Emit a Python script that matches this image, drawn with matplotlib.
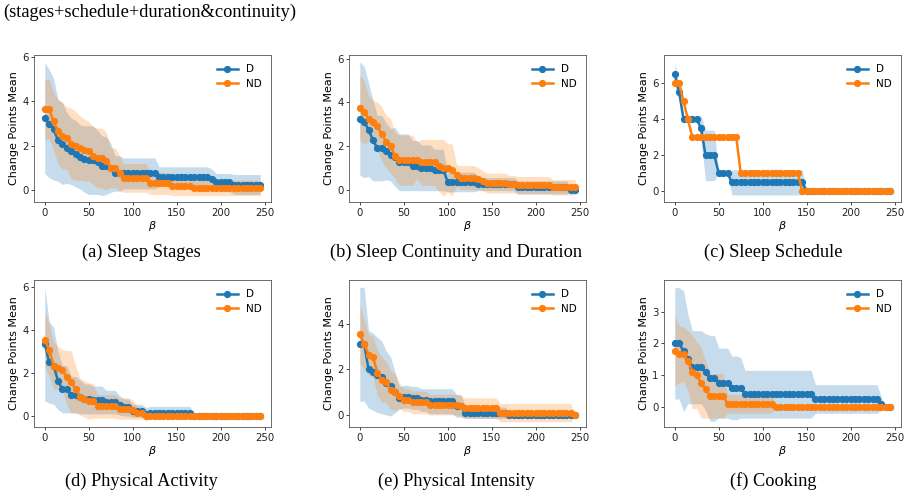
import matplotlib
matplotlib.use('Agg')
import matplotlib.pyplot as plt

# beta grid shared by every panel
beta = list(range(0, 250, 5))

# (a) Sleep Stages
a_d_mean = [3.25, 3.0, 2.75, 2.25, 2.1, 1.9, 1.75, 1.65, 1.5, 1.4, 1.35, 1.35, 1.25, 1.1, 1.1, 1.0, 0.75, 0.75,
            0.75, 0.75, 0.75, 0.75, 0.75, 0.75, 0.75, 0.75,
            0.6, 0.6, 0.6, 0.6, 0.6, 0.6, 0.6, 0.6, 0.6, 0.6, 0.6, 0.6,
            0.5, 0.35, 0.35, 0.35, 0.35, 0.25, 0.25, 0.25, 0.25, 0.25, 0.25, 0.25]
a_d_std = [2.5, 2.45, 2.3, 1.85, 1.85, 1.6, 1.5, 1.5, 1.45, 1.5, 1.55, 1.55, 1.45, 1.35, 1.3, 1.1, 0.8, 0.8,
           0.7, 0.7, 0.7, 0.7, 0.7, 0.7, 0.7, 0.7,
           0.45, 0.45, 0.45, 0.45, 0.45, 0.45, 0.45, 0.45, 0.45, 0.45, 0.45, 0.45,
           0.45, 0.4, 0.4, 0.4, 0.4, 0.45, 0.45, 0.45, 0.45, 0.45, 0.45, 0.45]
a_nd_mean = [3.65, 3.65, 3.1, 2.65, 2.45, 2.35, 2.1, 2.0, 1.9, 1.8, 1.75, 1.55, 1.45, 1.45, 1.3, 1.0, 1.0, 0.75,
             0.55, 0.55, 0.55, 0.55, 0.55, 0.55, 0.3, 0.3, 0.3, 0.3, 0.3, 0.2, 0.2, 0.2, 0.2, 0.2,
             0.1, 0.1, 0.1, 0.1, 0.1, 0.1, 0.1, 0.1, 0.1, 0.1, 0.1, 0.1, 0.1, 0.1, 0.1, 0.1]
a_nd_std = [1.35, 1.35, 1.3, 1.45, 1.5, 1.4, 1.6, 1.55, 1.45, 1.4, 1.35, 1.3, 1.35, 1.35, 1.3, 0.9, 0.9, 0.8,
            0.65, 0.65, 0.65, 0.65, 0.65, 0.65, 0.5, 0.5, 0.5, 0.5, 0.5, 0.45, 0.45, 0.45, 0.45, 0.45,
            0.35, 0.35, 0.35, 0.35, 0.35, 0.35, 0.35, 0.35, 0.35, 0.35, 0.35, 0.35, 0.35, 0.35, 0.35, 0.35]

# (b) Sleep Continuity and Duration
b_d_mean = [3.25, 3.1, 2.75, 2.25, 1.9, 1.9, 1.75, 1.6, 1.5, 1.25, 1.25, 1.25, 1.1, 1.1, 1.0, 1.0, 1.0, 0.9, 0.9, 0.9,
            0.35, 0.35, 0.35, 0.35, 0.35, 0.35, 0.35,
            0.25, 0.25, 0.25, 0.25, 0.25, 0.25, 0.25, 0.25, 0.25,
            0.1, 0.1, 0.1, 0.1, 0.1, 0.1, 0.1, 0.1, 0.1, 0.1, 0.1, 0.1, 0.0, 0.0]
b_d_std = [2.6, 2.55, 2.15, 1.85, 1.5, 1.5, 1.3, 1.2, 1.35, 1.3, 1.3, 1.3, 1.15, 1.15, 1.05, 1.05, 1.05, 0.95, 0.95, 0.95,
           0.45, 0.45, 0.45, 0.45, 0.45, 0.45, 0.45,
           0.3, 0.3, 0.3, 0.3, 0.3, 0.3, 0.3, 0.3, 0.3,
           0.3, 0.3, 0.3, 0.3, 0.3, 0.3, 0.3, 0.3, 0.3, 0.3, 0.3, 0.3, 0.1, 0.1]
b_nd_mean = [3.75, 3.55, 3.25, 3.1, 2.9, 2.55, 2.2, 2.0, 1.55, 1.35, 1.35, 1.35, 1.35, 1.35, 1.25, 1.25, 1.25, 1.25,
             1.1, 1.0, 1.0, 0.9, 0.65, 0.55, 0.55, 0.55, 0.55, 0.5, 0.4, 0.3, 0.3, 0.3, 0.3, 0.3, 0.25, 0.25,
             0.2, 0.2, 0.2, 0.2, 0.2, 0.2, 0.2, 0.2, 0.1, 0.1, 0.1, 0.1, 0.1, 0.1]
b_nd_std = [1.5, 1.45, 1.05, 1.0, 1.1, 1.25, 1.2, 1.25, 1.05, 1.15, 1.15, 1.15, 1.15, 0.85, 1.05, 1.05, 1.05, 1.05,
            1.2, 1.3, 1.1, 1.2, 0.5, 0.55, 0.55, 0.55, 0.55, 0.5, 0.45, 0.45, 0.45, 0.45, 0.45, 0.45, 0.4, 0.4,
            0.4, 0.4, 0.4, 0.4, 0.4, 0.4, 0.4, 0.4, 0.35, 0.35, 0.35, 0.35, 0.35, 0.35]

# (c) Sleep Schedule
c_d_mean = [6.5, 5.5, 4.0, 4.0, 4.0, 4.0, 3.5, 2.0, 2.0, 2.0, 1.0, 1.0, 1.0,
            0.5, 0.5, 0.5, 0.5, 0.5, 0.5, 0.5, 0.5, 0.5, 0.5, 0.5, 0.5, 0.5, 0.5, 0.5, 0.5, 0.5,
            0, 0, 0, 0, 0, 0, 0, 0, 0, 0, 0, 0, 0, 0, 0, 0, 0, 0, 0, 0]
c_d_std = [0.65, 0.3, 0, 0, 0, 0, 0.7, 1.4, 1.4, 1.4, 0, 0, 0,
           0.7, 0.7, 0.7, 0.7, 0.7, 0.7, 0.7, 0.7, 0.7, 0.7, 0.7, 0.7, 0.7, 0.7, 0.7, 0.7, 0.7,
           0, 0, 0, 0, 0, 0, 0, 0, 0, 0, 0, 0, 0, 0, 0, 0, 0, 0, 0, 0]
c_nd_mean = [6.0, 6.0, 5.0, 4.0, 3.0, 3.0, 3.0, 3.0, 3.0, 3.0, 3.0, 3.0, 3.0, 3.0, 3.0,
             1.0, 1.0, 1.0, 1.0, 1.0, 1.0, 1.0, 1.0, 1.0, 1.0, 1.0, 1.0, 1.0, 1.0,
             0, 0, 0, 0, 0, 0, 0, 0, 0, 0, 0, 0, 0, 0, 0, 0, 0, 0, 0, 0, 0]
c_nd_std = [0] * 50

# (d) Physical Activity
d_d_mean = [3.35, 2.5, 2.35, 1.65, 1.25, 1.25, 1.0, 1.0, 0.9, 0.8, 0.8, 0.75, 0.75, 0.75, 0.65, 0.65, 0.65, 0.5,
            0.4, 0.4, 0.25, 0.25, 0.25, 0.1, 0.15, 0.15, 0.15, 0.15, 0.15, 0.15, 0.15, 0.15, 0.15, 0.15,
            0, 0, 0, 0, 0, 0, 0, 0, 0, 0, 0, 0, 0, 0, 0, 0]
d_d_std = [2.65, 1.9, 1.8, 1.35, 1.1, 1.1, 0.85, 0.85, 0.8, 0.7, 0.7, 0.65, 0.65, 0.65, 0.55, 0.55, 0.55, 0.45,
           0.4, 0.4, 0.3, 0.3, 0.3, 0.3, 0.3, 0.3, 0.3, 0.3, 0.3, 0.3, 0.3, 0.3, 0.3, 0.3,
           0, 0, 0, 0, 0, 0, 0, 0, 0, 0, 0, 0, 0, 0, 0, 0]
d_nd_mean = [3.55, 3.1, 2.35, 2.25, 2.15, 1.8, 1.6, 1.25, 0.9, 0.8, 0.7, 0.7, 0.45, 0.45, 0.45, 0.45, 0.45,
             0.35, 0.35, 0.35, 0.3, 0.15, 0.15,
             0, 0, 0, 0, 0, 0, 0, 0, 0, 0, 0, 0, 0, 0, 0, 0, 0, 0, 0, 0, 0, 0, 0, 0, 0, 0, 0]
d_nd_std = [1.3, 1.2, 1.1, 1.0, 0.95, 1.25, 1.45, 1.1, 0.85, 0.85, 0.85, 0.8, 0.55, 0.55, 0.55, 0.55, 0.55,
            0.5, 0.5, 0.5, 0.45, 0.3, 0.3,
            0, 0, 0, 0, 0, 0, 0, 0, 0, 0, 0, 0, 0, 0, 0, 0, 0, 0, 0, 0, 0, 0, 0, 0, 0, 0, 0]

# (e) Physical Intensity
e_d_mean = [3.1, 3.1, 2.0, 1.9, 1.75, 1.65, 1.4, 1.25, 1.0, 0.75, 0.8, 0.8, 0.75, 0.75, 0.65, 0.65,
            0.6, 0.6, 0.6, 0.6, 0.6, 0.6, 0.4, 0.4,
            0.1, 0.1, 0.1, 0.1, 0.1, 0.1, 0.1, 0.1, 0.1, 0.1,
            0, 0, 0, 0, 0, 0, 0, 0, 0, 0, 0, 0, 0, 0, 0, 0]
e_d_std = [2.5, 2.5, 1.7, 1.7, 1.65, 1.6, 1.4, 1.3, 0.9, 0.5, 0.5, 0.5, 0.5, 0.5, 0.5, 0.5,
           0.55, 0.55, 0.55, 0.55, 0.55, 0.55, 0.5, 0.5,
           0.25, 0.25, 0.25, 0.25, 0.25, 0.25, 0.25, 0.25, 0.25, 0.25,
           0.15, 0.15, 0.15, 0.15, 0.15, 0.15, 0.15, 0.15, 0.15, 0.15, 0.15, 0.15, 0.15, 0.15, 0.15, 0.15]
e_nd_mean = [3.55, 3.1, 2.65, 2.55, 1.85, 1.55, 1.45, 1.1, 1.0, 0.85, 0.65, 0.65, 0.55, 0.55, 0.55, 0.55,
             0.45, 0.45, 0.45, 0.45, 0.45, 0.45, 0.45, 0.4,
             0.3, 0.3, 0.3, 0.3, 0.3, 0.3, 0.3, 0.3,
             0.1, 0.1, 0.1, 0.1, 0.1, 0.1, 0.1, 0.1, 0.1, 0.1, 0.1, 0.1, 0.1, 0.1, 0.1, 0.1, 0.1, 0.0]
e_nd_std = [1.3, 1.1, 0.9, 0.9, 1.0, 1.0, 0.9, 0.85, 0.8, 0.55, 0.5, 0.5, 0.5, 0.5, 0.5, 0.5,
            0.45, 0.45, 0.45, 0.45, 0.45, 0.45, 0.45, 0.45,
            0.45, 0.45, 0.45, 0.45, 0.45, 0.45, 0.45, 0.45,
            0.4, 0.4, 0.4, 0.4, 0.4, 0.4, 0.4, 0.4, 0.4, 0.4, 0.4, 0.4, 0.4, 0.4, 0.4, 0.4, 0.4, 0.0]

# (f) Cooking
f_d_mean = [2.0, 2.0, 1.75, 1.5, 1.25, 1.25, 1.25, 1.1, 0.9, 0.9, 0.75, 0.75, 0.75, 0.6, 0.6, 0.6,
            0.4, 0.4, 0.4, 0.4, 0.4, 0.4, 0.4, 0.4, 0.4, 0.4, 0.4, 0.4, 0.4, 0.4, 0.4, 0.4,
            0.25, 0.25, 0.25, 0.25, 0.25, 0.25, 0.25, 0.25, 0.25, 0.25, 0.25, 0.25, 0.25, 0.25, 0.25,
            0.1, 0.0, 0.0]
f_d_std = [1.75, 1.75, 1.9, 1.4, 1.15, 1.15, 1.15, 1.2, 1.35, 1.35, 1.1, 1.1, 1.1, 1.0, 1.0, 0.95,
           0.75, 0.75, 0.75, 0.75, 0.75, 0.75, 0.75, 0.75, 0.75, 0.75, 0.75, 0.75, 0.75, 0.75, 0.75, 0.75,
           0.45, 0.45, 0.45, 0.45, 0.45, 0.45, 0.45, 0.45, 0.45, 0.45, 0.45, 0.45, 0.45, 0.45, 0.45,
           0.2, 0.0, 0.0]
f_nd_mean = [1.75, 1.65, 1.65, 1.45, 1.1, 1.0, 0.75, 0.55, 0.35, 0.35, 0.35, 0.35,
             0.1, 0.1, 0.1, 0.1, 0.1, 0.1, 0.1, 0.1, 0.1, 0.1, 0.1,
             0, 0, 0, 0, 0, 0, 0, 0, 0, 0, 0, 0, 0, 0, 0, 0, 0, 0, 0, 0, 0, 0, 0, 0, 0, 0, 0]
f_nd_std = [1.1, 0.9, 0.85, 0.95, 1.15, 1.05, 1.1, 0.9, 0.7, 0.7, 0.7, 0.7,
            0.3, 0.3, 0.3, 0.3, 0.3, 0.3, 0.3, 0.3, 0.3, 0.3, 0.3,
            0, 0, 0, 0, 0, 0, 0, 0, 0, 0, 0, 0, 0, 0, 0, 0, 0, 0, 0, 0, 0, 0, 0, 0, 0, 0, 0]

captions = ["(a) Sleep Stages", "(b) Sleep Continuity and Duration", "(c) Sleep Schedule",
            "(d) Physical Activity", "(e) Physical Intensity", "(f) Cooking"]
panels = [(a_d_mean, a_d_std, a_nd_mean, a_nd_std),
          (b_d_mean, b_d_std, b_nd_mean, b_nd_std),
          (c_d_mean, c_d_std, c_nd_mean, c_nd_std),
          (d_d_mean, d_d_std, d_nd_mean, d_nd_std),
          (e_d_mean, e_d_std, e_nd_mean, e_nd_std),
          (f_d_mean, f_d_std, f_nd_mean, f_nd_std)]
ylims = [(-0.54, 6.1), (-0.57, 6.17), (-0.59, 7.58), (-0.51, 6.34), (-0.53, 5.92), (-0.63, 3.99)]
yticks = [[0, 2, 4, 6], [0, 2, 4, 6], [0, 2, 4, 6], [0, 2, 4, 6], [0, 2, 4], [0, 1, 2, 3]]

W, H = 909, 497
fig = plt.figure(figsize=(W / 100, H / 100), dpi=100)

# axes boxes in pixels: left, top, width, height
lefts = [34, 349, 664]
tops = [55, 280]
caption_x = [141, 456, 773]
caption_y = [252, 481]

C_D, C_ND = '#1f77b4', '#ff7f0e'
for k, (dm, ds, nm, ns) in enumerate(panels):
    row, col = divmod(k, 3)
    l, t = lefts[col], tops[row]
    w, h = 237, 147
    ax = fig.add_axes([l / W, 1 - (t + h) / H, w / W, h / H])
    ax.fill_between(beta, [m - s for m, s in zip(dm, ds)], [m + s for m, s in zip(dm, ds)],
                    color=C_D, alpha=0.25, linewidth=0)
    ax.fill_between(beta, [m - s for m, s in zip(nm, ns)], [m + s for m, s in zip(nm, ns)],
                    color=C_ND, alpha=0.25, linewidth=0)
    ax.plot(beta, dm, '-o', color=C_D, lw=1.8, ms=4.2, label='D')
    ax.plot(beta, nm, '-o', color=C_ND, lw=1.8, ms=4.2, label='ND')
    ax.set_ylim(*ylims[k])
    ax.set_yticks(yticks[k])
    ax.set_xticks([0, 50, 100, 150, 200, 250])
    ax.tick_params(labelsize=7.3, length=2.5, width=0.6, pad=1.5, colors='#222222')
    for sp in ax.spines.values():
        sp.set_linewidth(0.6)
        sp.set_color('#555555')
    ax.set_ylabel('Change Points Mean', fontsize=8, labelpad=2)
    ax.set_xlabel(r'$\beta$', fontsize=8, labelpad=1)
    ax.legend(loc='upper right', frameon=False, fontsize=7.5, handlelength=2.0, borderaxespad=0.5,
              labelspacing=0.45)
    fig.text(caption_x[col] / W, 1 - caption_y[row] / H, captions[k], ha='center', va='center',
             fontsize=13.2, family='Liberation Serif')

fig.text(3 / W, 1 - 12 / H, "(stages+schedule+duration&continuity)", ha='left', va='center',
         fontsize=13.2, family='Liberation Serif')

fig.savefig('out.png', dpi=100)
